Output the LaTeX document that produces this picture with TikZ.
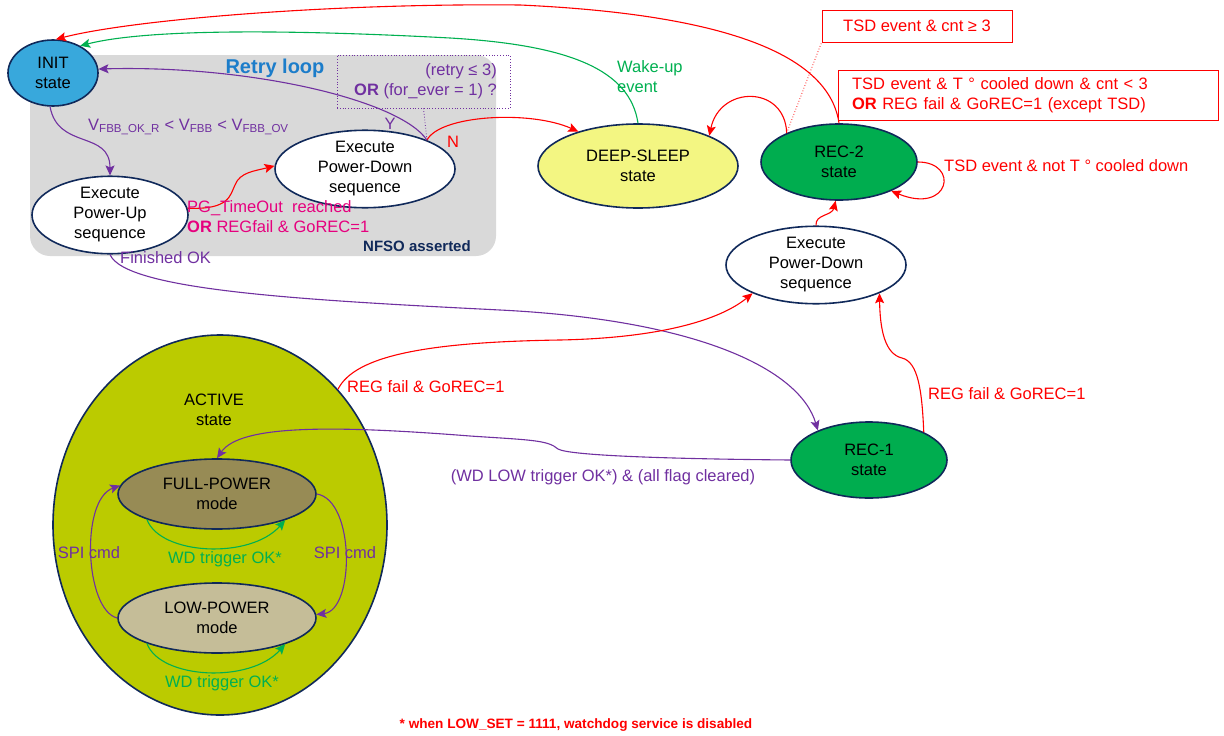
\documentclass[tikz,border=0pt]{standalone}
\usepackage{fontspec}
\setmainfont{Liberation Sans}
\usetikzlibrary{shapes.geometric,arrows.meta}
\definecolor{cpurple}{HTML}{7030A0}
\definecolor{cred}{HTML}{FF0000}
\definecolor{cgreen}{HTML}{00B050}
\definecolor{cmag}{HTML}{E6007E}
\definecolor{cnavy}{HTML}{10295A}
\definecolor{cgray}{HTML}{D9D9D9}
\definecolor{cblue}{HTML}{38A8DC}
\definecolor{cretry}{HTML}{1C7DCA}
\definecolor{cyellow}{HTML}{F3F682}
\definecolor{crec}{HTML}{00AD4F}
\definecolor{cactive}{HTML}{BBCB00}
\definecolor{cfull}{HTML}{978B55}
\definecolor{clow}{HTML}{C5BD98}
\begin{document}
\begin{tikzpicture}[x=1pt,y=-1pt,
  every node/.style={font=\fontsize{16.5}{20}\selectfont},
  st/.style={ellipse, draw=cnavy, line width=1.6pt, inner sep=0pt, align=center},
  conn/.style={line width=1.1pt, -{Stealth[length=10pt,width=9pt,inset=2pt]}},
  lab/.style={inner sep=0pt},
  tbox/.style={draw=cred, line width=1pt, text=cred},
]
\useasboundingbox (0,0) rectangle (1224,736);
% retry area background
\fill[cgray, rounded corners=20pt] (30,55) rectangle (496,256);

% states
\node[st, fill=cblue, minimum width=90pt, minimum height=66pt] (init) at (53,73) {INIT\\state};
\node[st, fill=white, minimum width=156pt, minimum height=66pt] (pu) at (110,215) {Execute\\Power-Up\\sequence};
\node[st, fill=white, minimum width=180pt, minimum height=68pt] (pd1) at (365,169) {Execute\\Power-Down\\sequence};
\node[st, fill=cyellow, minimum width=200pt, minimum height=84pt] (ds) at (638,166) {DEEP-SLEEP\\state};
\node[st, fill=crec, minimum width=156pt, minimum height=76pt] (rec2) at (839,162) {REC-2\\state};
\node[st, fill=white, minimum width=180pt, minimum height=70pt] (pd2) at (816,265) {Execute\\Power-Down\\sequence};
\node[st, fill=crec, minimum width=156pt, minimum height=76pt] (rec1) at (869,460) {REC-1\\state};
\node[st, fill=cactive, minimum width=334pt, minimum height=380pt] (active) at (220,525) {};
\node[lab, align=center] (activetxt) at (214,410) {ACTIVE\\state};
\node[st, fill=cfull, minimum width=198pt, minimum height=70pt] (full) at (217,494) {FULL-POWER\\mode};
\node[st, fill=clow, minimum width=198pt, minimum height=70pt] (low) at (217,618) {LOW-POWER\\mode};

% boxes and texts
\node[lab, text=cretry, font=\fontsize{20}{24}\selectfont\bfseries] (retrytitle) at (275,68) {Retry loop};
\node[draw=cpurple, dotted, line width=0.8pt, minimum width=173pt, minimum height=53pt, inner sep=0pt] (retrybox) at (423.5,81.5) {};
\node[lab, anchor=east, align=right, text=cpurple] (retrytxt) at (497,81.5) {(retry ≤ 3)\\\textbf{OR} (for\_ever = 1) ?};
\node[lab, text=cnavy, font=\fontsize{15}{18}\selectfont\bfseries] (nfso) at (417,246) {NFSO asserted};
\node[tbox, minimum width=190pt, minimum height=32pt, inner sep=0pt] (tsd1) at (917,26) {TSD event \& cnt ≥ 3};
\node[tbox, align=left, text width=352pt, inner xsep=14pt, minimum height=50pt] (tsd2) at (1028,95) {TSD event \& T ° cooled down \& cnt < 3\\\textbf{OR} REG fail \& GoREC=1 (except TSD)};

% connectors
\draw[conn, cpurple] (init.265) .. controls (58,150) and (110,130) .. (pu.north);
\draw[conn, cpurple] (pd1.25) .. controls (400,100) and (250,65) .. (init.5);
\draw[conn, cred] (pd1.25) .. controls (440,115) and (530,110) .. (ds.150);
\draw[cpurple, dotted, line width=0.8pt] (retrybox.south) -- (pd1.25);
\draw[conn, cred] (pu.5) .. controls (230,210) and (230,195) .. (235,185) .. controls (240,172) and (255,171) .. (pd1.178);
\draw[conn, cpurple] (pu.south) .. controls (125,290) and (300,300) .. (500,310) .. controls (700,320) and (800,370) .. (rec1.150);
\draw[conn, cpurple] (rec1.west) .. controls (680,459) and (570,456) .. (558,449) .. controls (548,440) and (530,440) .. (470,436) .. controls (330,425) and (240,425) .. (full.north);
\draw[conn, cred] (active.49) .. controls (355,355) and (430,342) .. (560,340) .. controls (660,338) and (720,320) .. (pd2.204);
\draw[conn, cred] (rec1.27) .. controls (922,390) and (918,362) .. (902,358) .. controls (885,354) and (880,330) .. (pd2.336);
\draw[conn, cred] (pd2.north) .. controls (815,214) and (832,216) .. (rec2.265);
\draw[conn, cred] (rec2.east) .. controls (960,162) and (950,215) .. (rec2.-29);
\draw[conn, cred] (rec2.151) .. controls (785,85) and (720,85) .. (ds.23);
\draw[cred, dotted, line width=0.8pt] (rec2.151) -- (tsd1.south west);
\draw[conn, cred] (rec2.north) .. controls (830,60) and (740,15) .. (520,5) .. controls (330,3) and (130,20) .. (init.85);
\draw[conn, cgreen] (ds.north) .. controls (630,70) and (570,45) .. (450,38) .. controls (300,30) and (150,28) .. (init.45);
\draw[conn, cgreen] (full.200) .. controls (160,555) and (250,560) .. (full.-21);
\draw[conn, cgreen] (low.200) .. controls (160,679) and (250,684) .. (low.-21);
\draw[conn, cpurple] (low.west) .. controls (85,610) and (80,500) .. (full.175);
\draw[conn, cpurple] (full.east) .. controls (355,500) and (355,610) .. (low.2);

% labels
\node[lab, anchor=west, text=cpurple] (vlab) at (88,127) {V\textsubscript{FBB\_OK\_R} < V\textsubscript{FBB} < V\textsubscript{FBB\_OV}};
\node[lab, text=cpurple] (ylab) at (390,124) {Y};
\node[lab, text=cred] (nlab) at (453,142) {N};
\node[lab, anchor=west, align=left, text=cmag] (pglab) at (187,217) {PG\_TimeOut\ \ reached\\\textbf{OR} REGfail \& GoREC=1};
\node[lab, anchor=west, text=cpurple] (finlab) at (120,258) {Finished OK};
\node[lab, anchor=west, align=left, text=cgreen] (wakelab) at (617,77) {Wake-up\\event};
\node[lab, anchor=west, text=cred] (tsdlab) at (944,166) {TSD event \& not T ° cooled down};
\node[lab, anchor=west, text=cred] (reglab1) at (347,387) {REG fail \& GoREC=1};
\node[lab, anchor=west, text=cred] (reglab2) at (928,394) {REG fail \& GoREC=1};
\node[lab, text=cpurple] (wdlowlab) at (603,477) {(WD LOW trigger OK*) \& (all flag cleared)};
\node[lab, text=cpurple] (spil) at (89,553) {SPI cmd};
\node[lab, text=cpurple] (spir) at (345,553) {SPI cmd};
\node[lab, text=cgreen] (wd1) at (225,559) {WD trigger OK*};
\node[lab, text=cgreen] (wd2) at (222,683) {WD trigger OK*};
\node[lab, text=cred, font=\fontsize{13.6}{16}\selectfont\bfseries] (foot) at (576,725) {* when LOW\_SET = 1111, watchdog service is disabled};
\end{tikzpicture}
\end{document}
